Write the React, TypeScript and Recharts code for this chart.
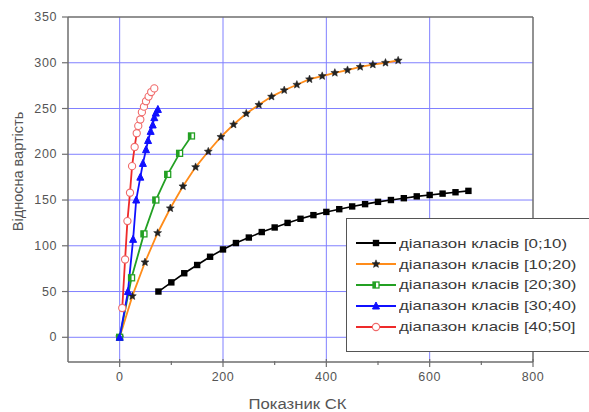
import React from "react";
import { LineChart, Line, XAxis, YAxis, CartesianGrid, ReferenceLine, Legend, Label } from "recharts";

const seriesNames = [
  "діапазон класів [0;10)",
  "діапазон класів [10;20)",
  "діапазон класів [20;30)",
  "діапазон класів [30;40)",
  "діапазон класів [40;50]",
];

const x0 = [75, 100, 125, 150, 175, 200, 225, 250, 275, 300, 325, 350, 375, 400, 425, 450, 475, 500, 525, 550, 575, 600, 625, 650, 675];
const y0 = [50, 60, 70, 79, 88, 96, 103, 109, 115, 120, 125, 129.5, 133.5, 137, 140, 143, 145.5, 148, 150, 152, 154, 155.5, 157, 158.5, 160];

const x1 = [0, 24.5, 49, 73.5, 98, 122.5, 147, 171.5, 196, 220.5, 245, 269.5, 294, 318.5, 343, 367.5, 392, 416.5, 441, 465.5, 490, 514.5, 539];
const y1 = [0, 45, 82, 114, 141, 165, 186, 203, 219, 232.5, 244.5, 254, 263, 270, 276, 282, 285.5, 289, 292, 295.5, 298, 300, 302.5];

const x2 = [0, 23, 47, 70, 93, 116, 139];
const y2 = [0, 65, 113, 150, 178, 201, 220];

const x3 = [0, 16, 26, 32, 40, 45, 51, 55, 60, 64, 67, 70, 74];
const y3 = [0, 50, 107, 150, 175, 190, 205, 215, 225, 232, 240, 245, 249];

const x4 = [5, 10.5, 15, 20, 24, 29, 33, 36, 40, 43, 47, 51, 56, 61, 67];
const y4 = [32, 85, 127, 158, 187, 208, 223, 231, 238, 246, 252, 258, 263, 268, 272];

const xTicks = [0, 100, 200, 300, 400, 500, 600, 700, 800];
const xMajor = [0, 200, 400, 600, 800];
const yTicks = [0, 25, 50, 75, 100, 125, 150, 175, 200, 225, 250, 275, 300, 325, 350];
const yMajor = [0, 50, 100, 150, 200, 250, 300, 350];
const xGrid = [0, 200, 400, 600];
const yGrid = [0, 50, 100, 150, 200, 250, 300];

const zip = (xs: number[], ys: number[]) => xs.map((x, i) => ({ x, y: ys[i] }));
const d0 = zip(x0, y0);
const d1 = zip(x1, y1);
const d2 = zip(x2, y2);
const d3 = zip(x3, y3);
const d4 = zip(x4, y4);

const colors = ["#000000", "#ff8c1a", "#23a023", "#1010ff", "#ee2a2a"];
const FONT = "'Liberation Sans', Arial, sans-serif";
const AXIS = "#6e6e6e";
const TXT = "#555555";

function starPath(cx: number, cy: number, r: number) {
  const pts: string[] = [];
  for (let i = 0; i < 10; i++) {
    const rr = i % 2 === 0 ? r : r * 0.45;
    const a = -Math.PI / 2 + (i * Math.PI) / 5;
    pts.push(`${cx + rr * Math.cos(a)},${cy + rr * Math.sin(a)}`);
  }
  return "M" + pts.join("L") + "Z";
}

function Marker({ kind, cx, cy }: { kind: number; cx: number; cy: number }) {
  if (kind === 0) return <rect x={cx - 3.2} y={cy - 3.2} width={6.4} height={6.4} fill="#000" />;
  if (kind === 1) return <path d={starPath(cx, cy, 4.2)} fill="#222" stroke="#222" strokeWidth={0.5} />;
  if (kind === 2)
    return (
      <g>
        <rect x={cx - 3} y={cy - 3} width={6} height={6} fill="#fff" stroke={colors[2]} strokeWidth={1.3} />
        <rect x={cx - 3} y={cy - 3} width={3} height={6} fill={colors[2]} />
      </g>
    );
  if (kind === 3)
    return <path d={`M${cx},${cy - 4}L${cx + 3.5},${cy + 3}L${cx - 3.5},${cy + 3}Z`} fill={colors[3]} stroke={colors[3]} />;
  return <circle cx={cx} cy={cy} r={3.6} fill="#fff" stroke="#f06a6a" strokeWidth={1.1} />;
}

const makeDot = (kind: number) => (p: any) => {
  if (p.cx == null || p.cy == null) return <g key={p.index} />;
  return <Marker key={p.index} kind={kind} cx={p.cx} cy={p.cy} />;
};

const XTick = (p: any) => {
  const v = p.payload.value;
  const major = xMajor.includes(v);
  return (
    <g>
      <line x1={p.x} x2={p.x} y1={p.y - (major ? 3 : 1)} y2={p.y + (major ? 5 : 3)} stroke={AXIS} strokeWidth={1.2} />
      {major && (
        <text x={p.x} y={p.y + 19} textAnchor="middle" fontSize={12.5} letterSpacing={0.6} fill={TXT} fontFamily={FONT}>
          {v}
        </text>
      )}
    </g>
  );
};

const YTick = (p: any) => {
  const v = p.payload.value;
  const major = yMajor.includes(v);
  return (
    <g>
      <line x1={p.x - (major ? 6 : 4)} x2={p.x} y1={p.y} y2={p.y} stroke={AXIS} strokeWidth={1.2} />
      {major && (
        <text x={p.x - 11} y={p.y + 4} textAnchor="end" fontSize={12.5} letterSpacing={0.6} fill={TXT} fontFamily={FONT}>
          {v}
        </text>
      )}
    </g>
  );
};

const LegendBox = () => (
  <div
    style={{
      width: 243,
      height: 134,
      border: "1.5px solid #555",
      borderRight: "none",
      background: "#fff",
      boxSizing: "border-box",
      paddingTop: 14,
      fontFamily: FONT,
      textAlign: "left",
    }}
  >
    {seriesNames.map((n, i) => (
      <div key={n} style={{ height: 20.8, display: "flex", alignItems: "center" }}>
        <svg width={56} height={14} style={{ marginLeft: 8, flex: "none" }}>
          <line x1={1} x2={41} y1={7} y2={7} stroke={colors[i]} strokeWidth={1.8} />
          <Marker kind={i} cx={21} cy={7} />
        </svg>
        <span
          style={{
            fontSize: 13.5,
            color: "#3a3a3a",
            whiteSpace: "nowrap",
            marginLeft: -12,
            display: "inline-block",
            transform: "scaleX(1.25)",
            transformOrigin: "left center",
          }}
        >
          {n}
        </span>
      </div>
    ))}
  </div>
);

export default function App() {
  return (
    <div style={{ position: "absolute", left: 0, top: 0, width: 589, height: 412, background: "#fff", overflow: "hidden" }}>
      <LineChart width={589} height={412} margin={{ top: 17, right: 56, bottom: 0, left: 8 }}>
        <CartesianGrid stroke="#8080ff" strokeWidth={1} horizontalValues={yGrid} verticalValues={xGrid} />
        <XAxis
          type="number"
          dataKey="x"
          domain={[-100, 800]}
          ticks={xTicks}
          allowDataOverflow
          height={50}
          tickSize={0}
          tickMargin={0}
          tickLine={false}
          tick={<XTick />}
          axisLine={{ stroke: AXIS, strokeWidth: 1.5 }}
        >
          <Label
            content={(props: any) => {
              const vb = props.viewBox;
              return (
                <text
                  x={vb.x + vb.width / 2 - 3}
                  y={vb.y + 47}
                  textAnchor="middle"
                  fontSize={14}
                  textLength={98}
                  lengthAdjust="spacingAndGlyphs"
                  fill={TXT}
                  fontFamily={FONT}
                >
                  Показник СК
                </text>
              );
            }}
          />
        </XAxis>
        <YAxis
          type="number"
          dataKey="y"
          domain={[-27, 350]}
          ticks={yTicks}
          allowDataOverflow
          width={60}
          tickSize={0}
          tickMargin={0}
          tickLine={false}
          tick={<YTick />}
          axisLine={{ stroke: AXIS, strokeWidth: 1.5 }}
        >
          <Label
            content={(props: any) => {
              const vb = props.viewBox;
              const cx = vb.x + 10;
              const cy = vb.y + vb.height / 2 - 18;
              return (
                <text
                  x={cx}
                  y={cy}
                  transform={`rotate(-90 ${cx} ${cy})`}
                  textAnchor="middle"
                  dominantBaseline="central"
                  fontSize={14.5}
                  fill={TXT}
                  fontFamily={FONT}
                >
                  Відносна вартість
                </text>
              );
            }}
          />
        </YAxis>
        <ReferenceLine y={350} stroke={AXIS} strokeWidth={1.5} />
        <ReferenceLine x={800} stroke={AXIS} strokeWidth={1.5} />
        <Line data={d0} dataKey="y" name={seriesNames[0]} stroke={colors[0]} strokeWidth={1.6} dot={makeDot(0)} isAnimationActive={false} />
        <Line data={d1} dataKey="y" name={seriesNames[1]} stroke={colors[1]} strokeWidth={1.8} dot={makeDot(1)} isAnimationActive={false} />
        <Line data={d2} dataKey="y" name={seriesNames[2]} stroke={colors[2]} strokeWidth={1.8} dot={makeDot(2)} isAnimationActive={false} />
        <Line data={d3} dataKey="y" name={seriesNames[3]} stroke={colors[3]} strokeWidth={1.8} dot={makeDot(3)} isAnimationActive={false} />
        <Line data={d4} dataKey="y" name={seriesNames[4]} stroke={colors[4]} strokeWidth={1.8} dot={makeDot(4)} isAnimationActive={false} />
        <Legend
          layout="vertical"
          align="center"
          verticalAlign="middle"
          content={() => <LegendBox />}
          wrapperStyle={{ left: 346, top: 218, width: 243, height: 134 }}
        />
      </LineChart>
    </div>
  );
}
